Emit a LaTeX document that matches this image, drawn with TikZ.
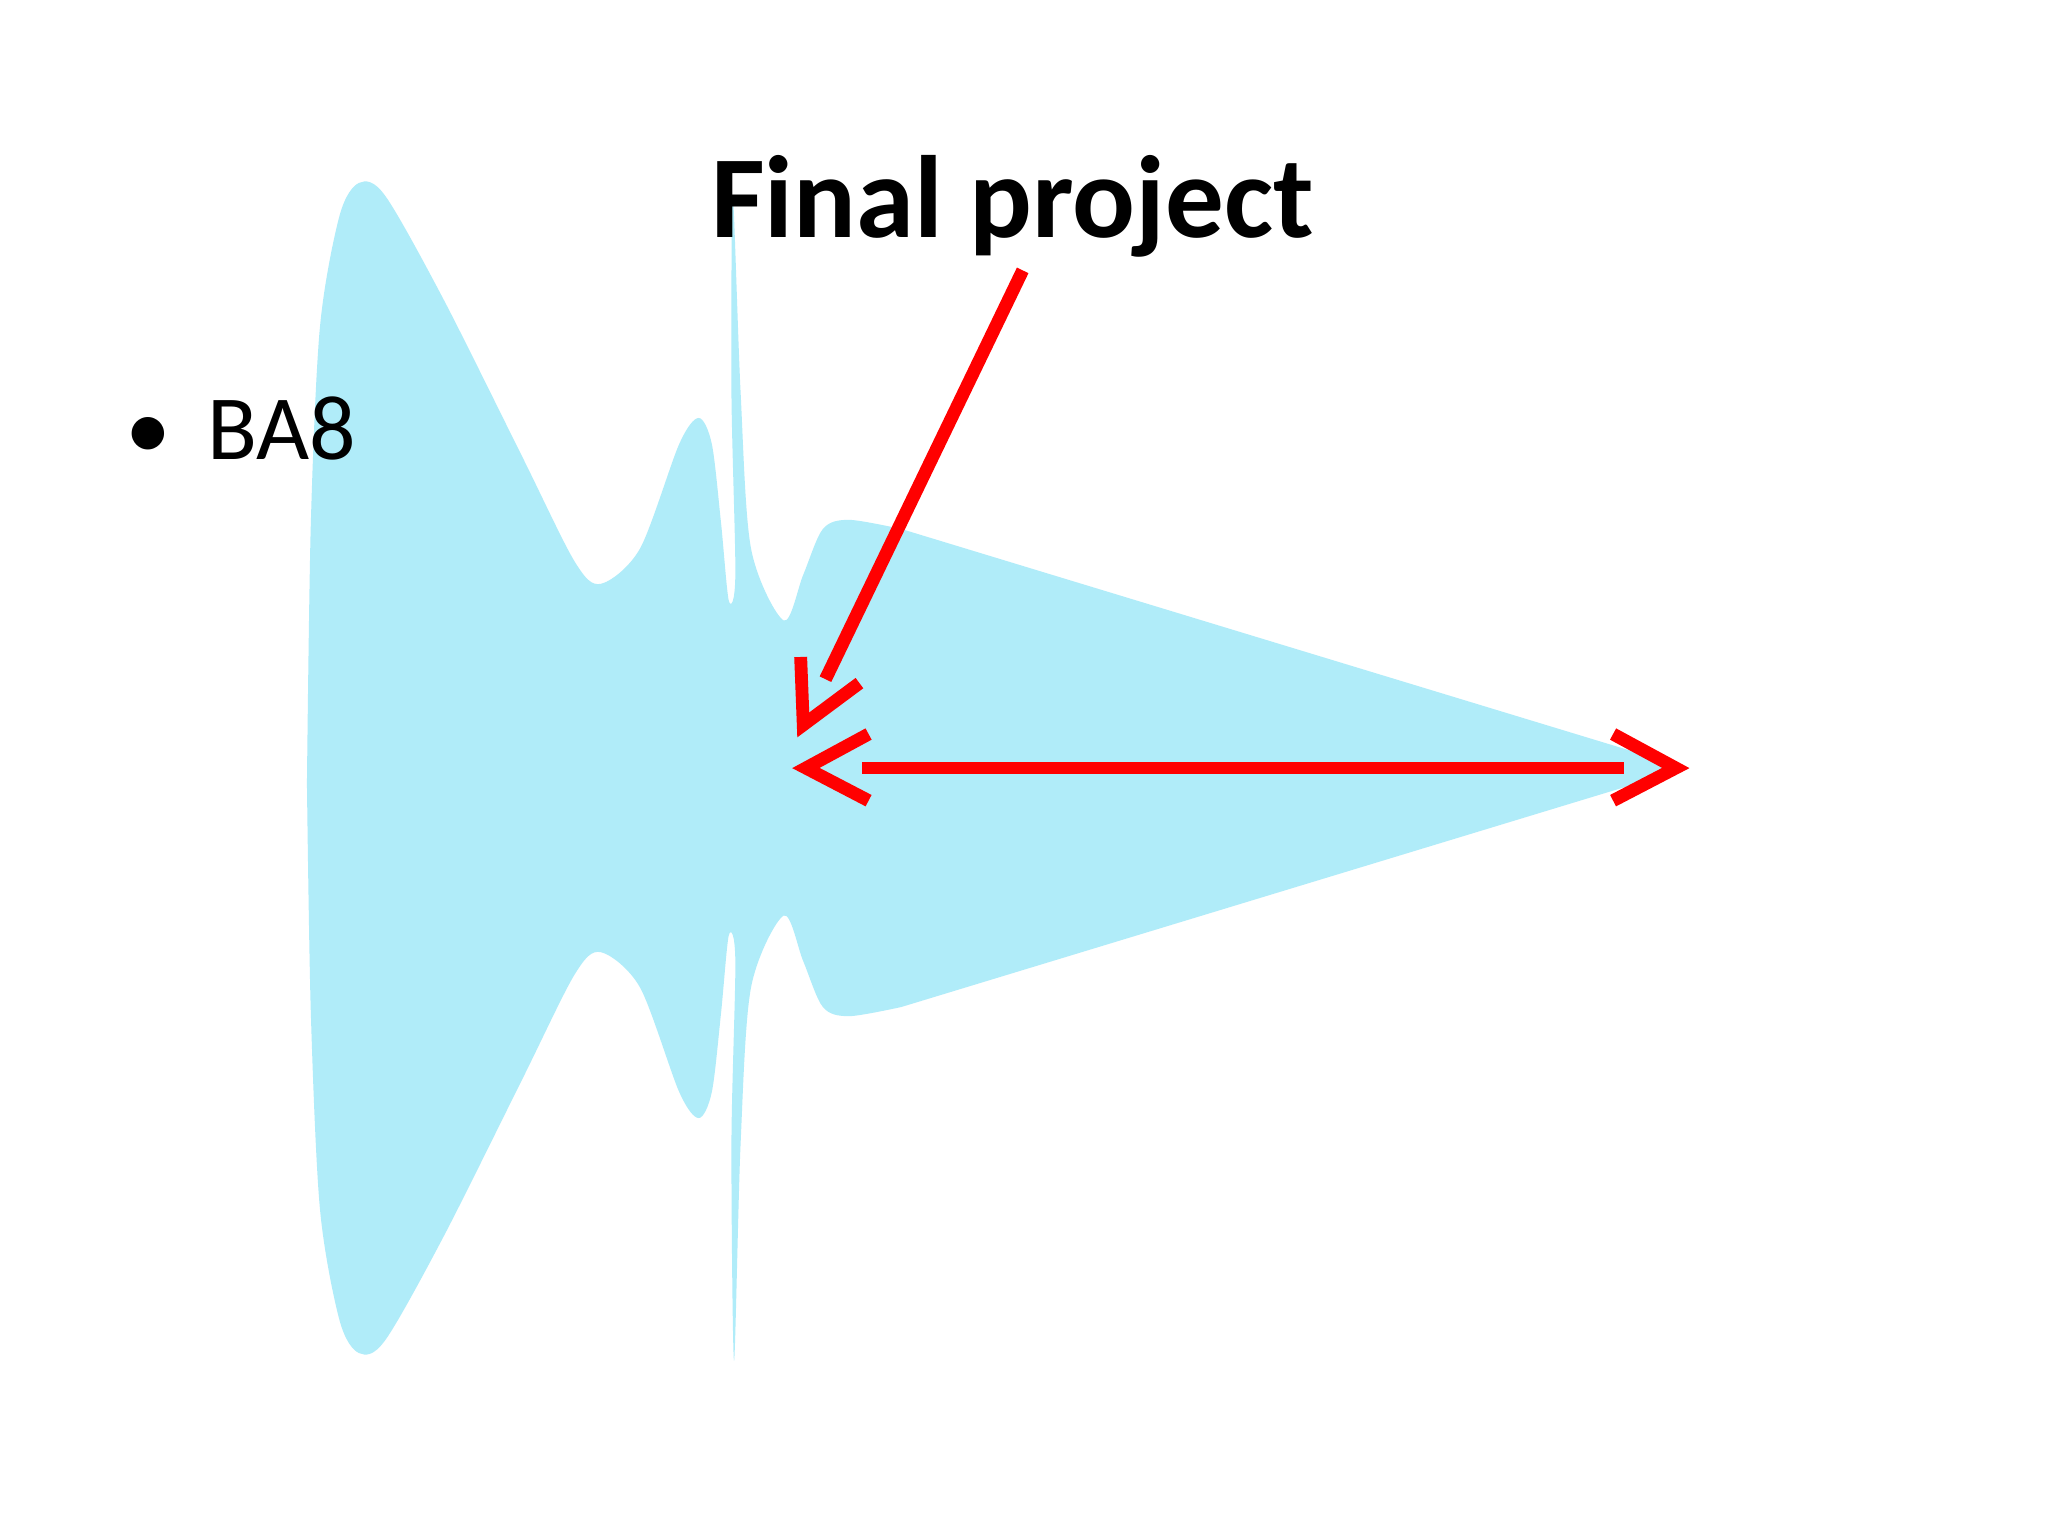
\documentclass[tikz,border=0pt]{standalone}
\usepackage{fontspec}
\setmainfont{Carlito}
\definecolor{shapeblue}{RGB}{176,236,249}
\definecolor{arr}{RGB}{255,0,0}
\tikzset{redline/.style={draw=arr,line width=5.6pt}}
\begin{document}
\begin{tikzpicture}[x=0.02cm,y=-0.02cm]
\useasboundingbox (0,0) rectangle (1568,1176);
\fill[white] (0,0) rectangle (1568,1176);
\fill[shapeblue] plot[smooth,tension=0.5] coordinates {(235,600) (238,400) (245,250) (260,165) (275,140) (295,150) (340,230) (400,350) (440,430) (460,447) (490,420) (520,340) (535,320) (545,340) (552,400) (558,460) (563,440) (560,300) (561,150) (567,300) (575,420) (600,475) (615,440) (630,405) (650,398) (690,405)}
 -- (1292,588) -- plot[smooth,tension=0.5] coordinates {(690,771) (650,778) (630,771) (615,736) (600,701) (575,756) (567,876) (562,1042) (560,876) (563,736) (558,716) (552,776) (545,836) (535,856) (520,836) (490,756) (460,729) (440,746) (400,826) (340,946) (295,1026) (275,1036) (260,1011) (245,926) (238,776) (235,600)} -- cycle;
\node[font=\bfseries\fontsize{51pt}{51pt}\selectfont,anchor=base] (title) at (775,182) {Final project};
\node[font=\fontsize{40pt}{40pt}\selectfont,anchor=base west] (ba) at (90,352) {\textbullet\hspace{0.55cm}BA8};
\coordinate (s) at (783,207);
\coordinate (e) at (632,520);
\draw[redline] (s) -- (e);
\draw[redline] (613,503) -- (615,555) -- (658,523);
\coordinate (l) at (660,588);
\coordinate (r) at (1243,588);
\draw[redline] (l) -- (r);
\draw[redline] (665,562) -- (617,588) -- (665,613);
\draw[redline] (1235,562) -- (1283,588) -- (1235,613);
\end{tikzpicture}
\end{document}
